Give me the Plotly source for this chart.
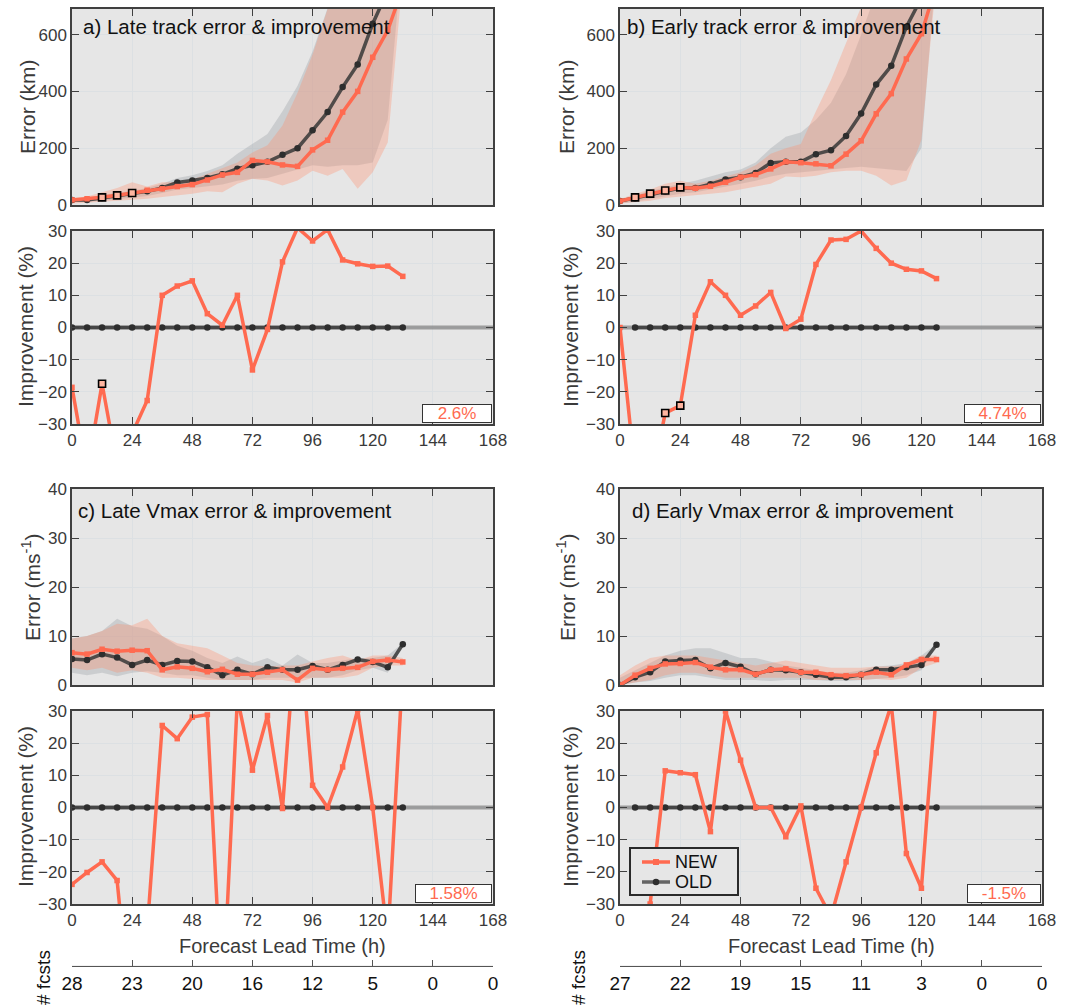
import plotly.graph_objects as go

# ---------------- data ----------------
lead_late = list(range(0, 133, 6))    # 0..132
lead_early = list(range(0, 127, 6))   # 0..126
x_ticks = [0, 24, 48, 72, 96, 120, 144, 168]

# a) Late track (km)
a_new = [18, 22, 27, 34, 42, 52, 57, 65, 72, 88, 106, 115, 157, 152, 141, 136, 194, 228, 327, 400, 520, 615, 765]
a_old = [18, 18, 25, 33, 40, 48, 60, 79, 86, 95, 108, 128, 140, 152, 177, 200, 263, 327, 415, 495, 638, 755, 908]
a_new_hi = [25, 30, 45, 60, 80, 65, 80, 80, 90, 110, 130, 150, 185, 210, 280, 395, 530, 690, 800, 900, 1000, 1100, 1200]
a_new_lo = [5, 8, 10, 14, 18, 22, 28, 35, 40, 48, 45, 75, 92, 86, 69, 86, 121, 103, 127, 57, 115, 220, 800]
a_old_hi = [22, 25, 35, 42, 50, 60, 75, 95, 105, 120, 140, 180, 215, 250, 330, 420, 540, 700, 850, 1000, 1100, 1200, 1300]
a_old_lo = [10, 12, 15, 20, 25, 32, 42, 55, 60, 65, 72, 85, 92, 95, 110, 125, 140, 135, 140, 140, 150, 300, 900]
a_imp = [-18.6, -45, -17.5, -43, -33, -22.7, 10, 12.9, 14.5, 4.3, 0.7, 10, -13.2, -0.6, 20.4, 31, 26.9, 30.4, 21, 19.8, 19, 19.1, 15.9]
a_sig_top_x = [12, 18, 24]
a_sig_top_y = [27, 34, 42]
a_sig_imp_x = [12]
a_sig_imp_y = [-17.5]
a_mean = "2.6%"

# b) Early track (km)
b_new = [14, 27, 40, 51, 62, 59, 66, 80, 98, 107, 127, 152, 149, 145, 138, 179, 226, 321, 392, 514, 603, 777]
b_old = [14, 24, 36, 48, 60, 60, 73, 90, 98, 113, 148, 152, 152, 179, 193, 243, 322, 424, 490, 627, 729, 916]
b_new_hi = [20, 40, 55, 75, 85, 75, 85, 100, 115, 140, 180, 200, 215, 330, 440, 570, 700, 850, 950, 1050, 1100, 1200]
b_new_lo = [5, 10, 15, 25, 30, 35, 40, 45, 55, 65, 75, 100, 98, 103, 115, 121, 121, 103, 69, 86, 230, 800]
b_old_hi = [18, 35, 50, 62, 75, 85, 100, 115, 125, 150, 200, 240, 255, 300, 360, 460, 600, 750, 900, 1000, 1100, 1200]
b_old_lo = [5, 12, 20, 30, 40, 45, 55, 65, 75, 85, 100, 110, 115, 120, 125, 130, 135, 130, 125, 120, 200, 850]
b_imp = [0, -45, -50, -26.6, -24.3, 3.8, 14.2, 10, 3.8, 6.7, 10.9, -0.3, 2.6, 19.6, 27.2, 27.4, 30, 24.6, 20, 18.1, 17.6, 15.2]
b_sig_top_x = [6, 12, 18, 24]
b_sig_top_y = [27, 40, 51, 62]
b_sig_imp_x = [18, 24]
b_sig_imp_y = [-26.6, -24.3]
b_mean = "4.74%"

# c) Late Vmax (m/s)
c_new = [6.6, 6.3, 7.3, 6.9, 7.1, 7.0, 3.1, 3.7, 3.4, 2.7, 3.2, 2.2, 2.2, 2.6, 3.1, 1.0, 3.4, 3.1, 3.4, 3.6, 4.8, 5.1, 4.7]
c_old = [5.3, 5.1, 6.3, 5.6, 4.1, 5.1, 4.1, 4.9, 4.8, 3.6, 2.0, 3.1, 2.2, 3.6, 3.1, 3.1, 3.9, 3.1, 4.1, 5.2, 4.7, 3.6, 8.3]
c_new_hi = [9.5, 10, 11, 12.5, 12.2, 13.5, 10, 8.5, 8, 7.5, 6, 4.5, 4, 3.8, 4, 4, 4.8, 5.5, 6, 5, 6, 6, 5.5]
c_new_lo = [3.5, 3, 3.5, 2.5, 3, 2.5, 1.5, 1.5, 1.2, 1, 1, 1, 1, 1, 1, 0.5, 1.5, 1.5, 1.5, 2, 3.5, 4, 4]
c_old_hi = [9.5, 10, 11, 13.5, 12, 11.5, 10, 8, 7, 5.5, 4.5, 5.8, 4.5, 5.5, 4, 6.2, 4.5, 4.5, 5, 5.5, 5.5, 6, 8.5]
c_old_lo = [2.5, 2, 2.5, 1.8, 2.5, 2.8, 2.5, 2, 2, 1.5, 1, 1, 1, 1.5, 1.5, 1.5, 1.5, 1.5, 2, 3, 3.5, 2.5, 8]
c_imp = [-23.9, -20.2, -16.9, -22.7, -70, -38, 25.5, 21.4, 28.1, 28.9, -63, 34, 11.6, 28.6, -0.3, 62, 6.9, 0, 12.6, 30.4, 0, -41, 43]
c_mean = "1.58%"
c_fcsts = ["28", "23", "20", "16", "12", "5", "0", "0"]

# d) Early Vmax (m/s)
d_new = [0, 2.0, 3.4, 4.3, 4.4, 4.6, 3.65, 3.1, 3.15, 2.2, 3.1, 3.3, 2.6, 2.6, 2.1, 1.9, 2.1, 2.6, 2.1, 4.1, 5.2, 5.2]
d_old = [0, 1.6, 2.6, 4.8, 5.0, 5.1, 3.4, 4.5, 3.7, 2.2, 3.1, 3.0, 2.6, 2.1, 1.6, 1.6, 2.1, 3.1, 3.1, 3.6, 4.1, 8.2]
d_new_hi = [2, 4, 5.5, 6, 6, 6, 5.5, 5, 4.5, 4, 4.5, 5, 4.5, 4, 3.5, 3.5, 3.5, 3.8, 3.8, 4.2, 6, 6]
d_new_lo = [0, 0.5, 1, 2, 2.5, 2.5, 2, 1.5, 1.5, 1.5, 1.5, 1.5, 1.5, 1, 1, 1, 1, 1.2, 1, 1.5, 3.5, 4.5]
d_old_hi = [1.5, 3, 4.5, 6, 7, 7.5, 7.5, 6.5, 5.5, 5.5, 4.8, 4, 3.5, 3, 2.5, 2.5, 3, 3.8, 4, 4.5, 6, 8.3]
d_old_lo = [0, 0.5, 0.8, 1.5, 2, 2, 1.5, 1, 1, 1, 0.8, 1, 1, 1, 0.8, 0.8, 1, 1.2, 1.5, 2, 3, 8]
d_imp = [None, None, -30, 11.4, 10.8, 10.2, -7.5, 30, 14.7, 0, 0, -9.1, 0.5, -25.1, -34, -16.9, 0, 17, 32, -14.3, -25.1, 36.4]
d_mean = "-1.5%"
d_fcsts = ["27", "22", "19", "15", "11", "3", "0", "0"]

legend_names = ["NEW", "OLD"]

# ---------------- styling ----------------
W, H = 1069, 1006
FONT = "Liberation Sans"
NEW_C = "#ff6a50"
OLD_C = "rgba(55,55,55,0.85)"
NEW_FILL = "rgba(255,140,105,0.32)"
OLD_FILL = "rgba(150,155,162,0.33)"
BG = "#e6e6e6"
AX_C = "#404040"
TXT_C = "#3a3a3a"


def px_x(p):
    return p / W


def px_y(p):
    return 1 - p / H


XL = [px_x(72), px_x(493)]
XR = [px_x(620), px_x(1042)]
Y_TOP1 = [px_y(205), px_y(9)]
Y_BOT1 = [px_y(424), px_y(231)]
Y_TOP2 = [px_y(685), px_y(489)]
Y_BOT2 = [px_y(904), px_y(711)]

fig = go.Figure()


def band(x, lo, hi, color, n):
    xs = list(x) + list(x)[::-1]
    ys = list(hi) + list(lo)[::-1]
    fig.add_trace(go.Scatter(x=xs, y=ys, fill="toself", fillcolor=color, mode="lines",
                             line=dict(width=0), hoverinfo="skip", showlegend=False,
                             xaxis=f"x{n}", yaxis=f"y{n}"))


def line_new(x, y, n):
    fig.add_trace(go.Scatter(x=x, y=y, mode="lines+markers", name=legend_names[0],
                             line=dict(color=NEW_C, width=3.5),
                             marker=dict(symbol="square", size=5.5, color=NEW_C),
                             showlegend=False, connectgaps=False,
                             xaxis=f"x{n}", yaxis=f"y{n}"))


def line_old(x, y, n):
    fig.add_trace(go.Scatter(x=x, y=y, mode="lines+markers", name=legend_names[1],
                             line=dict(color=OLD_C, width=3.5),
                             marker=dict(symbol="circle", size=6.5, color="#2e2e2e"),
                             showlegend=False, xaxis=f"x{n}", yaxis=f"y{n}"))


def sig(x, y, n):
    fig.add_trace(go.Scatter(x=x, y=y, mode="markers",
                             marker=dict(symbol="square", size=7, color="#ffb5a0",
                                         line=dict(color="black", width=1.6)),
                             showlegend=False, hoverinfo="skip",
                             xaxis=f"x{n}", yaxis=f"y{n}"))


def top_panel(n, lead, new, old, nlo, nhi, olo, ohi, sx=None, sy=None):
    band(lead, olo, ohi, OLD_FILL, n)
    band(lead, nlo, nhi, NEW_FILL, n)
    line_old(lead, old, n)
    line_new(lead, new, n)
    if sx:
        sig(sx, sy, n)


def imp_panel(n, lead, imp, sx=None, sy=None):
    fig.add_trace(go.Scatter(x=[0, 168], y=[0, 0], mode="lines",
                             line=dict(color="rgba(125,125,125,0.7)", width=4),
                             showlegend=False, hoverinfo="skip",
                             xaxis=f"x{n}", yaxis=f"y{n}"))
    old_x = lead if lead[-1] == 132 else lead[1:]
    line_old(old_x, [0] * len(old_x), n)
    line_new(lead, imp, n)
    if sx:
        sig(sx, sy, n)


top_panel(1, lead_late, a_new, a_old, a_new_lo, a_new_hi, a_old_lo, a_old_hi, a_sig_top_x, a_sig_top_y)
imp_panel(2, lead_late, a_imp, a_sig_imp_x, a_sig_imp_y)
top_panel(3, lead_early, b_new, b_old, b_new_lo, b_new_hi, b_old_lo, b_old_hi, b_sig_top_x, b_sig_top_y)
imp_panel(4, lead_early, b_imp, b_sig_imp_x, b_sig_imp_y)
top_panel(5, lead_late, c_new, c_old, c_new_lo, c_new_hi, c_old_lo, c_old_hi)
imp_panel(6, lead_late, c_imp)
top_panel(7, lead_early, d_new, d_old, d_new_lo, d_new_hi, d_old_lo, d_old_hi)
imp_panel(8, lead_early, d_imp)

# fcsts axes (dummy traces)
for n in (9, 10):
    fig.add_trace(go.Scatter(x=[None], y=[None], mode="markers", showlegend=False,
                             xaxis=f"x{n}", yaxis=f"y{n}"))

# hand-made legend box (own small axes, coordinates in pixels of the box)
fig.add_trace(go.Scatter(x=[11, 25, 39], y=[32, 32, 32], mode="lines", showlegend=False,
                         line=dict(color=NEW_C, width=3.5), hoverinfo="skip",
                         xaxis="x11", yaxis="y11"))
fig.add_trace(go.Scatter(x=[25], y=[32], mode="markers", showlegend=False,
                         marker=dict(symbol="square", size=6, color=NEW_C), hoverinfo="skip",
                         xaxis="x11", yaxis="y11"))
fig.add_trace(go.Scatter(x=[11, 25, 39], y=[12, 12, 12], mode="lines", showlegend=False,
                         line=dict(color="rgba(85,85,85,0.9)", width=3.5), hoverinfo="skip",
                         xaxis="x11", yaxis="y11"))
fig.add_trace(go.Scatter(x=[25], y=[12], mode="markers", showlegend=False,
                         marker=dict(symbol="circle", size=6.5, color="#2e2e2e"), hoverinfo="skip",
                         xaxis="x11", yaxis="y11"))

ax_common = dict(showline=True, linecolor=AX_C, linewidth=1.5, mirror="ticks",
                 ticks="inside", ticklen=7, tickwidth=1.2, tickcolor=AX_C,
                 showgrid=True, gridcolor="#dce0e3", gridwidth=1, zeroline=False,
                 automargin=False,
                 tickfont=dict(family=FONT, size=17, color=TXT_C))

layout = dict(width=W, height=H, margin=dict(l=0, r=0, t=0, b=0),
              paper_bgcolor="white", plot_bgcolor=BG,
              font=dict(family=FONT, color=TXT_C),
              showlegend=False)

specs = [
    (1, XL, Y_TOP1, [0, 690], [0, 200, 400, 600], False),
    (2, XL, Y_BOT1, [-30, 30], [-30, -20, -10, 0, 10, 20, 30], True),
    (3, XR, Y_TOP1, [0, 690], [0, 200, 400, 600], False),
    (4, XR, Y_BOT1, [-30, 30], [-30, -20, -10, 0, 10, 20, 30], True),
    (5, XL, Y_TOP2, [0, 40], [0, 10, 20, 30, 40], False),
    (6, XL, Y_BOT2, [-30, 30], [-30, -20, -10, 0, 10, 20, 30], True),
    (7, XR, Y_TOP2, [0, 40], [0, 10, 20, 30, 40], False),
    (8, XR, Y_BOT2, [-30, 30], [-30, -20, -10, 0, 10, 20, 30], True),
]
for n, xd, yd, yr, yt, show_x in specs:
    layout[f"xaxis{n}"] = dict(ax_common, domain=xd, range=[0, 168], tickvals=x_ticks,
                               showticklabels=show_x, anchor=f"y{n}")
    layout[f"yaxis{n}"] = dict(ax_common, domain=yd, range=yr, tickvals=yt, anchor=f"x{n}")

# fcsts axes
for n, xd, labels in ((9, XL, c_fcsts), (10, XR, d_fcsts)):
    yline = px_y(966)
    layout[f"xaxis{n}"] = dict(domain=xd, range=[0, 168], tickvals=x_ticks, ticktext=labels,
                               showline=True, linecolor="#555555", linewidth=1.2,
                               ticks="inside", ticklen=6, tickcolor="#555555",
                               showgrid=False, zeroline=False, anchor=f"y{n}", automargin=False,
                               tickfont=dict(family=FONT, size=19, color="#111111"))
    layout[f"yaxis{n}"] = dict(domain=[yline, yline + 0.0005], visible=False,
                               range=[0, 1], anchor=f"x{n}", automargin=False)

# legend axes
layout["xaxis11"] = dict(domain=[px_x(631), px_x(737)], range=[0, 106], anchor="y11",
                         showline=True, mirror=True, linecolor="#2a2a2a", linewidth=2,
                         showgrid=False, zeroline=False, showticklabels=False, ticks="",
                         automargin=False, fixedrange=True)
layout["yaxis11"] = dict(domain=[px_y(894), px_y(849)], range=[0, 45], anchor="x11",
                         showline=True, mirror=True, linecolor="#2a2a2a", linewidth=2,
                         showgrid=False, zeroline=False, showticklabels=False, ticks="",
                         automargin=False, fixedrange=True)

fig.update_layout(**layout)

# ---------------- annotations ----------------
ann = []


def text(x, y, s, size=19, angle=0, color=TXT_C, xanchor="center", yanchor="middle"):
    ann.append(dict(x=px_x(x), y=px_y(y), xref="paper", yref="paper", text=s,
                    showarrow=False, textangle=angle, xanchor=xanchor, yanchor=yanchor,
                    font=dict(family=FONT, size=size, color=color)))


# panel titles
text(81, 27, "a) Late track error &amp; improvement", size=20.5, color="#111111", xanchor="left")
text(625, 27, "b) Early track error &amp; improvement", size=20.5, color="#111111", xanchor="left")
text(76, 510, "c) Late Vmax error &amp; improvement", size=20.5, color="#111111", xanchor="left")
text(630, 510, "d) Early Vmax error &amp; improvement", size=20.5, color="#111111", xanchor="left")

# y titles
text(28, 107, "Error (km)", size=21, angle=-90)
text(567, 107, "Error (km)", size=21, angle=-90)
text(25, 327, "Improvement (%)", size=21, angle=-90)
text(570, 327, "Improvement (%)", size=21, angle=-90)
text(31, 587, "Error (ms<sup>-1</sup>)", size=21, angle=-90)
text(566, 587, "Error (ms<sup>-1</sup>)", size=21, angle=-90)
text(25, 807, "Improvement (%)", size=21, angle=-90)
text(570, 807, "Improvement (%)", size=21, angle=-90)

# x titles
text(282, 946, "Forecast Lead Time (h)", size=20)
text(831, 946, "Forecast Lead Time (h)", size=20)

# fcsts labels
text(43, 978, "# fcsts", size=19, angle=-90, color="#111111")
text(578, 978, "# fcsts", size=19, angle=-90, color="#111111")

# legend labels
text(673, 862, legend_names[0], size=18, color="#111111", xanchor="left")
text(673, 882, legend_names[1], size=18, color="#111111", xanchor="left")

# mean improvement boxes
for xr, yb, s, w in ((492, 423, a_mean, 68), (1041, 423, b_mean, 75),
                     (492, 903, c_mean, 75), (1041, 903, d_mean, 72)):
    ann.append(dict(x=px_x(xr), y=px_y(yb), xref="paper", yref="paper", text=s,
                    showarrow=False, xanchor="right", yanchor="bottom",
                    width=w, height=17, bgcolor="white", bordercolor="#333333",
                    borderwidth=1, borderpad=0, align="center",
                    font=dict(family=FONT, size=17, color=NEW_C)))

fig.update_layout(annotations=ann)

fig.write_html("out.html")
